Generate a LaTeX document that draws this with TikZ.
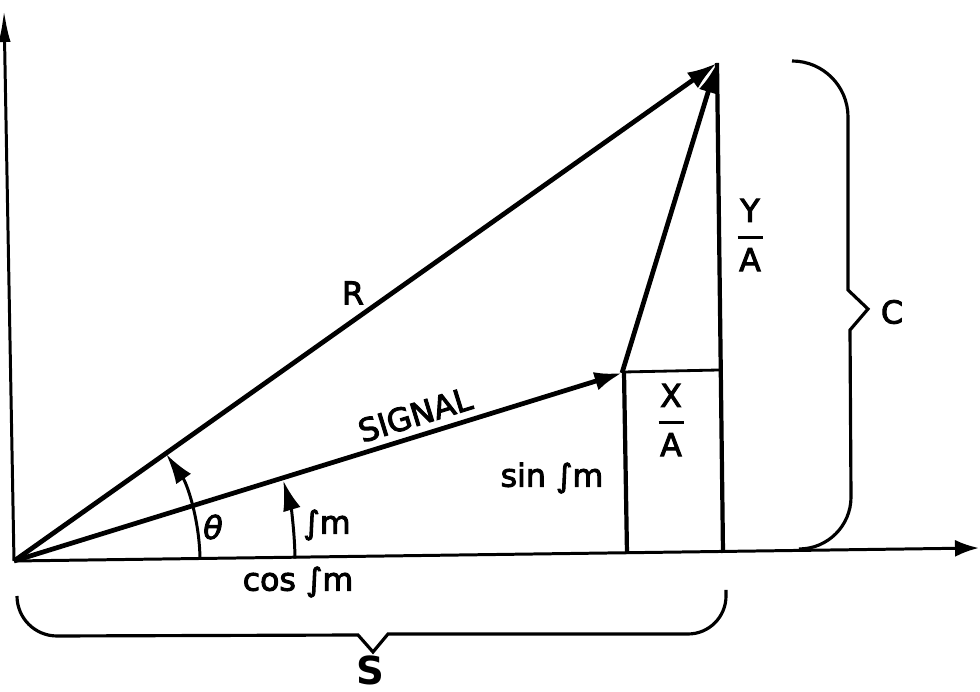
\documentclass[tikz,border=0pt]{standalone}
\usepackage{fontspec}
\setmainfont{DejaVu Sans}
\newfontfamily\lettering{DejaVu Sans}[FakeBold=3]
\usepackage{tikz}
\usetikzlibrary{positioning,calc,arrows.meta}
\newcommand{\ratio}[2]{#1\\[-10pt]\rule{0.5cm}{2.1pt}\\[-2pt]#2}
\tikzset{
lbl/.style={font=\fontsize{18}{20}\lettering,inner sep=1pt},
fraclbl/.style={lbl,align=center},
vec/.style={line width=2.7pt,-{Latex[length=6mm,width=3.8mm]}},
sigvec/.style={line width=2.7pt,-{Latex[length=5.5mm,width=3.8mm]}},
xaxis/.style={line width=1.7pt,-{Latex[length=4.8mm,width=3.4mm]}},
yaxis/.style={line width=1.7pt,-{Latex[length=6.4mm,width=2.4mm]}},
post/.style={line width=2.4pt},
thinpost/.style={line width=1.6pt},
anglearrow/.style={line width=1.7pt,-{Latex[length=6mm,width=3.6mm]}},
bracepath/.style={line width=1.8pt,line join=miter}
}
\begin{document}
\begin{tikzpicture}[x=0.02cm,y=0.02cm,every node/.style={lbl}]
\useasboundingbox (0,0) rectangle (980,692);
\coordinate (O) at (14,131);
\coordinate (xend) at (979,144);
\coordinate (yend) at (4,682);
\coordinate (P) at (717,629);
\coordinate (S) at (622,319);
\coordinate (Stop) at (624,320);
\coordinate (Sfoot) at (627,138);
\coordinate (Pbox) at (719,322);
\coordinate (Pfoot) at (723,139);
\coordinate (thA) at ($(O)+(0.9:186)$);
\coordinate (fmA) at ($(O)+(0.5:281)$);
% axes
\draw[xaxis] (O) -- (xend);
\draw[yaxis] (O) -- (yend);
% components
\draw[post] (Sfoot) -- (Stop);
\draw[thinpost] (Stop) -- (Pbox);
\draw[post] (Pfoot) -- (P);
% vectors
\draw[vec] (O) -- (P);
\draw[sigvec] (O) -- (S) node[pos=0.67,sloped,above,inner sep=4pt] (siglbl) {SIGNAL};
\draw[vec] (S) -- (P);
% angles
\draw[anglearrow] (thA) arc[start angle=0.9,end angle=35,radius=186];
\draw[anglearrow] (fmA) arc[start angle=0.5,end angle=16.6,radius=281];
% braces
\draw[bracepath] (17,96) arc[start angle=180,end angle=270,radius=40] -- (358,57) -- (373,40) -- (388,58) -- (688,58) arc[start angle=270,end angle=360,radius=38] -- (726,102);
\draw[bracepath] (792,631) arc[start angle=90,end angle=0,radius=56] -- (848,402) -- (868,383) -- (850,362) -- (851,195) arc[start angle=0,end angle=-90,radius=52];
% labels
\node (rlbl) at (353,399) {R};
\node (thlbl) at (213,165) {\textit{θ}};
\node (fmlbl) at (327,167) {∫m};
\node (coslbl) at (298,110) {cos ∫m};
\node (sinlbl) at (552,214) {sin ∫m};
\node[fraclbl] (xlbl) at (671,272) {\ratio{X}{A}};
\node[fraclbl] (ylbl) at (750,457) {\ratio{Y}{A}};
\node (clbl) at (892,380) {C};
\node[font=\fontsize{22}{24}\selectfont\bfseries,inner sep=0pt] (slbl) at (370,22) {S};
\end{tikzpicture}
\end{document}
